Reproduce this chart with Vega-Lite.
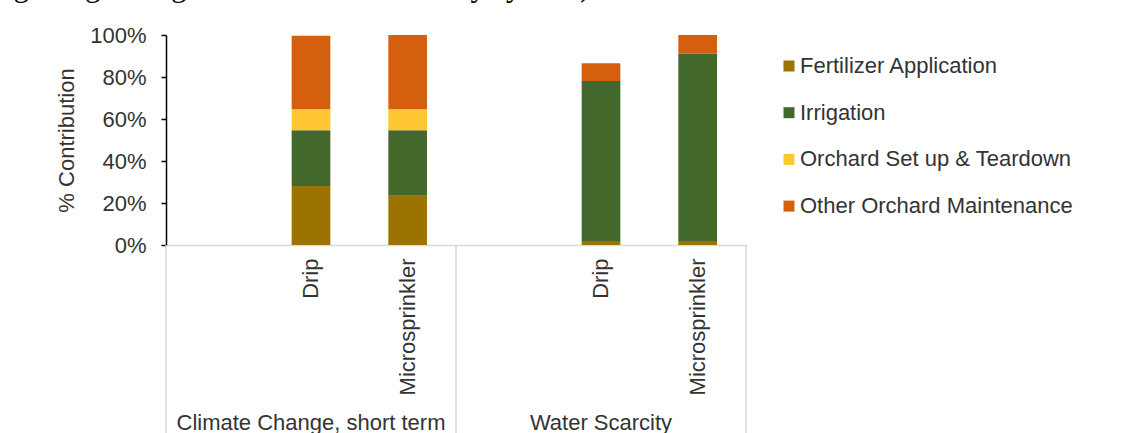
{
  "$schema": "https://vega.github.io/schema/vega-lite/v6.json",
  "autosize": {"type": "none"},
  "width": 580,
  "height": 210,
  "padding": {"left": 166, "top": 35, "right": 393, "bottom": 188},
  "background": "white",
  "config": {
    "font": "Liberation Sans",
    "view": {"stroke": null}
  },
  "title": {
    "text": "nge originating from the water delivery system).",
    "anchor": "start",
    "frame": "group",
    "font": "Liberation Serif",
    "fontSize": 31,
    "fontWeight": "normal",
    "color": "#000000",
    "baseline": "alphabetic",
    "dx": -168,
    "offset": -3
  },
  "datasets": {
    "bars": [
      {"slot": "Climate Change, short term|Drip", "component": "Fertilizer Application", "value": 28.1},
      {"slot": "Climate Change, short term|Drip", "component": "Irrigation", "value": 26.5},
      {"slot": "Climate Change, short term|Drip", "component": "Orchard Set up & Teardown", "value": 10.0},
      {"slot": "Climate Change, short term|Drip", "component": "Other Orchard Maintenance", "value": 35.1},
      {"slot": "Climate Change, short term|Microsprinkler", "component": "Fertilizer Application", "value": 23.5},
      {"slot": "Climate Change, short term|Microsprinkler", "component": "Irrigation", "value": 31.1},
      {"slot": "Climate Change, short term|Microsprinkler", "component": "Orchard Set up & Teardown", "value": 10.0},
      {"slot": "Climate Change, short term|Microsprinkler", "component": "Other Orchard Maintenance", "value": 35.4},
      {"slot": "Water Scarcity|Drip", "component": "Fertilizer Application", "value": 1.9},
      {"slot": "Water Scarcity|Drip", "component": "Irrigation", "value": 76.2},
      {"slot": "Water Scarcity|Drip", "component": "Orchard Set up & Teardown", "value": 0.0},
      {"slot": "Water Scarcity|Drip", "component": "Other Orchard Maintenance", "value": 8.4},
      {"slot": "Water Scarcity|Microsprinkler", "component": "Fertilizer Application", "value": 1.9},
      {"slot": "Water Scarcity|Microsprinkler", "component": "Irrigation", "value": 89.3},
      {"slot": "Water Scarcity|Microsprinkler", "component": "Orchard Set up & Teardown", "value": 0.0},
      {"slot": "Water Scarcity|Microsprinkler", "component": "Other Orchard Maintenance", "value": 8.8}
    ],
    "separators": [
      {"pos": 0},
      {"pos": 3},
      {"pos": 6}
    ],
    "groups": [
      {"group": "Climate Change, short term", "pos": 1.5},
      {"group": "Water Scarcity", "pos": 4.5}
    ]
  },
  "resolve": {"scale": {"x": "independent"}},
  "layer": [
    {
      "data": {"name": "bars"},
      "mark": {"type": "bar"},
      "encoding": {
        "x": {
          "field": "slot",
          "type": "nominal",
          "scale": {
            "domain": [
              "Climate Change, short term|",
              "Climate Change, short term|Drip",
              "Climate Change, short term|Microsprinkler",
              "Water Scarcity|",
              "Water Scarcity|Drip",
              "Water Scarcity|Microsprinkler"
            ],
            "paddingInner": 0.6,
            "paddingOuter": 0.3
          },
          "axis": {
            "title": null,
            "labelExpr": "split(datum.value, '|')[1]",
            "labelAngle": -90,
            "labelFontSize": 22,
            "labelColor": "#333333",
            "labelPadding": 13,
            "labelLimit": 300,
            "ticks": false,
            "domainColor": "#D9D9D9",
            "domainWidth": 1.5,
            "grid": false
          }
        },
        "y": {
          "field": "value",
          "type": "quantitative",
          "stack": "zero",
          "scale": {"domain": [0, 100], "nice": false},
          "axis": {
            "title": "% Contribution",
            "titleFontSize": 22,
            "titleFontWeight": "normal",
            "titleColor": "#333333",
            "titlePadding": 11,
            "values": [0, 20, 40, 60, 80, 100],
            "labelExpr": "datum.value + '%'",
            "labelFontSize": 22,
            "labelColor": "#333333",
            "labelPadding": 15,
            "tickSize": 5,
            "tickColor": "#000000",
            "tickWidth": 1.5,
            "domainColor": "#000000",
            "domainWidth": 1.5,
            "grid": false
          }
        },
        "color": {
          "field": "component",
          "type": "nominal",
          "scale": {
            "domain": ["Fertilizer Application", "Irrigation", "Orchard Set up & Teardown", "Other Orchard Maintenance"],
            "range": ["#9A7300", "#43682B", "#FFC832", "#D4600F"]
          },
          "legend": {
            "title": null,
            "orient": "none",
            "legendX": 612,
            "legendY": 20,
            "padding": 0,
            "symbolType": "square",
            "symbolSize": 121,
            "symbolStrokeWidth": 0,
            "labelFontSize": 22,
            "labelColor": "#333333",
            "labelOffset": 0,
            "labelLimit": 400,
            "rowPadding": 24.7
          }
        },
        "order": {"field": "component", "sort": "ascending"}
      }
    },
    {
      "data": {"name": "separators"},
      "mark": {"type": "rule", "color": "#D9D9D9", "strokeWidth": 1.5},
      "encoding": {
        "x": {"field": "pos", "type": "quantitative", "scale": {"domain": [0, 6], "nice": false, "zero": false}, "axis": null},
        "y": {"datum": 0, "type": "quantitative"},
        "y2": {"datum": -90}
      }
    },
    {
      "data": {"name": "groups"},
      "mark": {"type": "text", "fontSize": 22, "color": "#333333", "baseline": "alphabetic", "align": "center"},
      "encoding": {
        "x": {"field": "pos", "type": "quantitative", "scale": {"domain": [0, 6], "nice": false, "zero": false}, "axis": null},
        "y": {"datum": -88.3, "type": "quantitative"},
        "text": {"field": "group"}
      }
    }
  ]
}
